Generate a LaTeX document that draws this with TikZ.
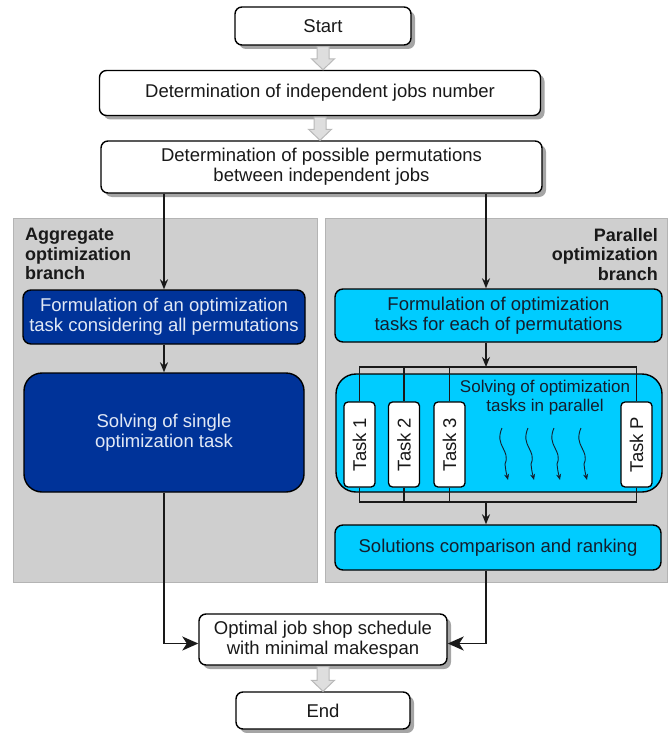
\documentclass[tikz,border=0pt]{standalone}
\usepackage{fontspec}
\setmainfont{Liberation Sans}
\usetikzlibrary{arrows.meta,calc,shadows}
\definecolor{dblue}{RGB}{0,51,153}
\definecolor{cyanbox}{RGB}{0,204,255}
\definecolor{panelgray}{RGB}{207,207,207}
\definecolor{paneledge}{RGB}{180,180,180}
\definecolor{shadowgray}{RGB}{165,165,165}
\definecolor{lighttext}{RGB}{225,232,245}
\definecolor{darktext}{RGB}{20,30,45}
\definecolor{hollowfill}{RGB}{222,222,222}
\definecolor{hollowedge}{RGB}{185,185,185}
\newcommand{\hollowarrow}[2]{%
  \path[hollowarr] let \p1=(#1.south), \p2=(#2.north) in
    (\x1-6pt,\y1-1pt) -- (\x1+6pt,\y1-1pt) -- (\x1+6pt,\y2+11pt) --
    (\x1+11.5pt,\y2+11pt) -- (\x1,\y2) -- (\x1-11.5pt,\y2+11pt) --
    (\x1-6pt,\y2+11pt) -- cycle;}
\begin{document}
\begin{tikzpicture}[x=1pt,y=-1pt,
  txt/.style={font=\fontsize{18.5}{20}\selectfont},
  whitebox/.style={txt, draw=black, line width=1.4pt, fill=white, rounded corners=7pt,
    inner sep=0pt, align=center, text=black!90,
    drop shadow={shadow xshift=4pt, shadow yshift=-4pt, fill=shadowgray, opacity=1}},
  bluebox/.style={txt, draw=black, line width=1.4pt, fill=dblue, rounded corners=8pt,
    inner sep=0pt, align=center, text=lighttext},
  cyanb/.style={txt, draw=black, line width=1.4pt, fill=cyanbox, rounded corners=8pt,
    inner sep=0pt, align=center, text=darktext},
  taskbox/.style={txt, draw=black, line width=1.3pt, fill=white, rounded corners=4pt,
    inner sep=0pt, minimum width=31pt, minimum height=85pt, text=black!90},
  panel/.style={fill=panelgray, draw=paneledge, line width=1pt},
  plabel/.style={font=\fontsize{18}{19.5}\selectfont\bfseries, inner sep=0pt, text=black!90},
  conn/.style={line width=1.6pt, draw=black!90},
  arr/.style={conn, -{Stealth[length=10pt,width=8pt]}},
  bigarr/.style={conn, -{Stealth[length=16pt,width=14pt,inset=4.5pt]}},
  wavy/.style={line width=0.9pt, draw=darktext, -{Stealth[length=6pt,width=5pt]}},
  hollowarr/.style={fill=hollowfill, draw=hollowedge, line width=1pt, line join=miter}
]
\useasboundingbox (0,0) rectangle (668,733);

% panels
\draw[panel] (13,218) rectangle (317,582);
\draw[panel] (325,218) rectangle (667,582);

% top nodes
\node[whitebox, minimum width=176pt, minimum height=38pt] (start) at (323,26) {Start};
\node[whitebox, minimum width=441pt, minimum height=45pt] (det1) at (320,93)
  {Determination of independent jobs number};
\node[whitebox, minimum width=441pt, minimum height=52pt] (det2) at (321.5,167)
  {Determination of possible permutations\\between independent jobs};

\hollowarrow{start}{det1}
\hollowarrow{det1}{det2}

% panel labels
\node[plabel, anchor=north west, align=left] (lab1) at (25,228)
  {Aggregate\\optimization\\branch};
\node[plabel, anchor=north east, align=right] (lab2) at (658,228)
  {Parallel\\optimization\\branch};

% left branch
\node[bluebox, minimum width=282pt, minimum height=54pt] (formL) at (164,317)
  {Formulation of an optimization\\task considering all permutations};
\node[bluebox, rounded corners=18pt, minimum width=280pt, minimum height=119pt] (solveL) at (164,432.5)
  {Solving of single\\optimization task};

% right branch
\coordinate (rbus) at (486,0);
\node[cyanb, minimum width=327pt, minimum height=53pt] (formR) at (498.5,315.5)
  {Formulation of optimization\\tasks for each of permutations};
\node[cyanb, rounded corners=20pt, minimum width=326pt, minimum height=118pt] (par) at (499,433) {};
\node[font=\fontsize{17}{19}\selectfont, align=center, text=darktext, inner sep=0pt] (partxt) at (545,398)
  {Solving of optimization\\tasks in parallel};
\node[taskbox] (t1) at (359.5,444.5) {\rotatebox{90}{Task 1}};
\node[taskbox] (t2) at (404,444.5) {\rotatebox{90}{Task 2}};
\node[taskbox] (t3) at (449.5,444.5) {\rotatebox{90}{Task 3}};
\node[taskbox] (tP) at (636.5,444.5) {\rotatebox{90}{Task P}};
\node[cyanb, minimum width=326pt, minimum height=45pt] (sol) at (498,547.5)
  {Solutions comparison and ranking};

\coordinate (bustop) at (486,367);
\coordinate (busbot) at (486,502);

% bottom nodes
\node[whitebox, minimum width=248pt, minimum height=51pt] (opt) at (323,639.5)
  {Optimal job shop schedule\\with minimal makespan};
\node[whitebox, minimum width=174pt, minimum height=37pt] (end) at (323,710.5) {End};
\hollowarrow{opt}{end}

% connectors
\draw[arr] (formL.north |- det2.south) -- (formL.north);
\draw[arr] (rbus |- det2.south) -- (rbus |- formR.north);
\draw[arr] (formL.south) -- (solveL.north);
\draw[arr] (rbus |- formR.south) -- (bustop);
\draw[conn] (t1.north) |- (tP.north |- bustop) -- (tP.north);
\draw[conn] (t2.north) -- (t2.north |- bustop);
\draw[conn] (t3.north) -- (t3.north |- bustop);
\draw[conn] (t1.south) |- (tP.south |- busbot) -- (tP.south);
\draw[conn] (t2.south) -- (t2.south |- busbot);
\draw[conn] (t3.south) -- (t3.south |- busbot);
\draw[arr] (busbot) -- (rbus |- sol.north);
\draw[bigarr] (solveL.south) |- ([yshift=-4pt]opt.west);
\draw[bigarr] (rbus |- sol.south) |- ([yshift=-4pt]opt.east);

% wavy arrows
\foreach \i/\dx in {w1/0, w2/26, w3/52, w4/79} {
  \coordinate (\i a) at (502+\dx,428);
  \coordinate (\i b) at (508+\dx,480);
  \draw[wavy] (\i a) .. controls ($(\i a)+(-8,18)$) and ($(\i a)+(9,22)$) .. ($(\i a)+(3,36)$)
     .. controls ($(\i a)+(4,44)$) .. (\i b);
}
\end{tikzpicture}
\end{document}
